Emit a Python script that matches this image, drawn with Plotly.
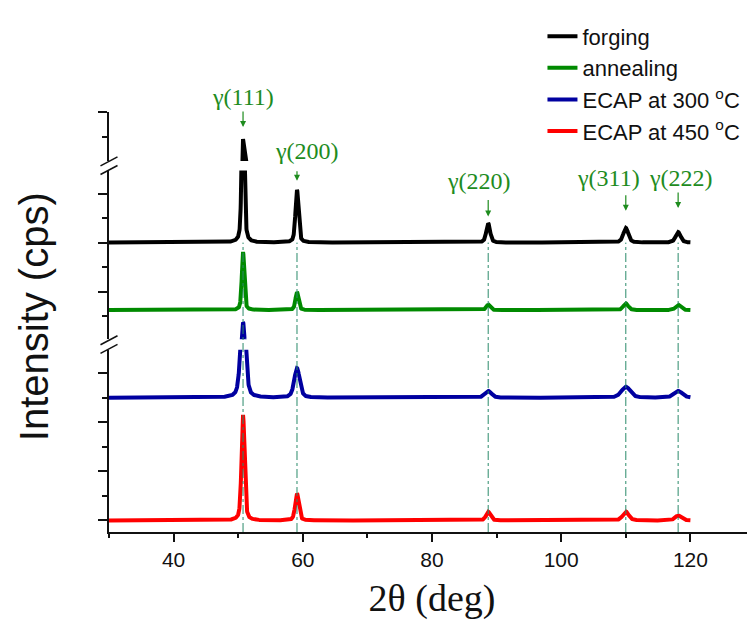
import numpy as np
import plotly.graph_objects as go

# ---------------- data ----------------
two_theta_min, two_theta_max = 30.0, 120.0
peak_labels = ["γ(111)", "γ(200)", "γ(220)", "γ(311)", "γ(222)"]
peak_pos = [50.75, 59.1, 88.7, 110.0, 118.1]

samples = ["forging", "annealing", "ECAP at 300 <sup>o</sup>C", "ECAP at 450 <sup>o</sup>C"]
offsets = [12.0, 9.25, 5.0, 0.0]           # vertical stacking offsets (a.u.)
heights_forging = [6.9, 2.15, 0.78, 0.60, 0.43]
heights_annealing = [2.37, 0.73, 0.22, 0.27, 0.22]
heights_ecap300 = [3.75, 1.20, 0.28, 0.45, 0.28]
heights_ecap450 = [4.30, 1.10, 0.35, 0.36, 0.20]
fwhm_forging = [0.45, 0.55, 0.70, 0.90, 0.90]
fwhm_annealing = [0.45, 0.55, 0.70, 0.90, 0.90]
fwhm_ecap300 = [0.90, 1.00, 1.20, 1.60, 1.50]
fwhm_ecap450 = [0.55, 0.65, 0.80, 1.10, 1.10]

heights = [heights_forging, heights_annealing, heights_ecap300, heights_ecap450]
fwhms = [fwhm_forging, fwhm_annealing, fwhm_ecap300, fwhm_ecap450]

# ---------------- styles ----------------
colors = ["#000000", "#008a00", "#0000a0", "#ff0000"]
label_color = "#1e8c1e"
vline_color = "#2a8a6a"
arrow_standoff = [12, 9, 7, 17, 24]
arrow_tail = [-29, -20, -25, -34, -41]
label_yshift = [42, 39, 42, 50, 54]
label_xshift = [0, 10, -9, -17, 3]

W, H = 755, 620
ML, MR, MT, MB = 101, 8, 86, 96
PH = H - MT - MB
PW = W - ML - MR
PX_PER_UNIT = 25.6
axis_bottom_px = H - MB


def frac(px):
    return (axis_bottom_px - px) / PH


# broken y axis: three stacked segments sharing the same scale
seg_dom = [
    [0.0, frac(334)],
    [frac(323), frac(147)],
    [frac(137), 1.0],
]
seg_range = [
    [-12 / PX_PER_UNIT, -12 / PX_PER_UNIT + (524 - 334) / PX_PER_UNIT],
    [9 - 24 / PX_PER_UNIT, 9 + 152 / PX_PER_UNIT],
    [20 - 51 / PX_PER_UNIT, 20.001],
]
yaxis_ids = ["y", "y2", "y3"]


def pattern(h, w, off, x):
    y = np.full_like(x, off)
    eta = 0.45
    for p, hh, ww in zip(peak_pos, h, w):
        g = np.exp(-4 * np.log(2) * ((x - p) / ww) ** 2)
        lo = 1.0 / (1.0 + 4 * ((x - p) / ww) ** 2)
        y = y + hh * (eta * lo + (1 - eta) * g)
    return y


x = np.linspace(two_theta_min, two_theta_max, 3601)

fig = go.Figure()
for i, name in enumerate(samples):
    y = pattern(heights[i], fwhms[i], offsets[i], x)
    for k, yid in enumerate(yaxis_ids):
        fig.add_trace(go.Scatter(
            x=x, y=y, mode="lines", name=name, xaxis="x", yaxis=yid,
            line=dict(color=colors[i], width=4),
            showlegend=(k == 0), hoverinfo="skip",
        ))

axis_common = dict(
    showline=True, linecolor="#111", linewidth=2, showgrid=False, zeroline=False,
    ticks="outside", ticklen=9, tickwidth=1.5, tickcolor="#111",
    showticklabels=False, tick0=0, dtick=2,
    minor=dict(ticks="outside", ticklen=5, tickwidth=1.5, tickcolor="#111", dtick=1, tick0=0, showgrid=False),
    fixedrange=True,
)
layout_axes = {}
for k, yid in enumerate(yaxis_ids):
    key = "yaxis" if k == 0 else "yaxis%d" % (k + 1)
    layout_axes[key] = dict(axis_common, domain=seg_dom[k], range=seg_range[k], anchor="x")

fig.update_layout(
    width=W, height=H,
    margin=dict(l=ML, r=MR, t=MT, b=MB),
    paper_bgcolor="white", plot_bgcolor="white",
    font=dict(family="Arial, Liberation Sans, sans-serif", color="#111"),
    xaxis=dict(
        range=[30, 130], anchor="y", showline=True, linecolor="#111", linewidth=2,
        showgrid=False, zeroline=False, ticks="outside", ticklen=8, tickwidth=1.5,
        tickcolor="#111", tick0=0, dtick=20,
        minor=dict(ticks="outside", ticklen=4, tickwidth=1.5, tickcolor="#111", dtick=10, showgrid=False),
        tickfont=dict(size=21, family="Arial, Liberation Sans, sans-serif", color="#111"),
        title=dict(text="2θ (deg)", font=dict(size=38, family="Liberation Serif, Times New Roman, serif", color="#111"), standoff=14),
        fixedrange=True,
    ),
    legend=dict(
        x=0.671, y=1.23, xanchor="left", yanchor="top",
        font=dict(size=22, family="Arial, Liberation Sans, sans-serif", color="#111"),
        bgcolor="rgba(0,0,0,0)", tracegroupgap=0,
    ),
    showlegend=True,
    **layout_axes,
)

# vertical dash-dot guide lines from the x axis up to the forging baseline
mid_dom, mid_rng = seg_dom[1], seg_range[1]
top_paper = mid_dom[0] + (offsets[0] - mid_rng[0]) / (mid_rng[1] - mid_rng[0]) * (mid_dom[1] - mid_dom[0])
for p in peak_pos:
    fig.add_shape(type="line", xref="x", yref="paper", x0=p, x1=p, y0=0, y1=top_paper,
                  line=dict(color=vline_color, width=1, dash="dashdot"), layer="above")

# peak labels with arrows, pointing at the forging peak tops
for j, (lab, p) in enumerate(zip(peak_labels, peak_pos)):
    top_val = offsets[0] + heights_forging[j]
    yref = "y3" if top_val > seg_range[1][1] else "y2"
    fig.add_annotation(
        x=p, y=top_val, xref="x", yref=yref, text="", showarrow=True,
        ax=0, ay=arrow_tail[j], axref="pixel", ayref="pixel",
        arrowhead=2, arrowsize=1, arrowwidth=1.2, arrowcolor=label_color,
        standoff=arrow_standoff[j],
    )
    fig.add_annotation(
        x=p, y=top_val, xref="x", yref=yref, text=lab, showarrow=False,
        xanchor="center", yanchor="middle",
        xshift=label_xshift[j], yshift=label_yshift[j],
        font=dict(size=24, family="Liberation Serif, Times New Roman, serif", color=label_color),
    )

# y axis title
fig.add_annotation(
    text="Intensity (cps)", textangle=-90, xref="paper", yref="paper",
    x=-(ML - 26) / PW, y=frac(300), xanchor="center", yanchor="middle", showarrow=False,
    font=dict(size=40, family="Arial, Liberation Sans, sans-serif", color="#111"),
)

# axis-break marks
for py in [137.5, 146.5, 324, 333]:
    fig.add_shape(type="line", xref="paper", yref="paper",
                  xsizemode="pixel", ysizemode="pixel", xanchor=0, yanchor=frac(py),
                  x0=-8.5, x1=8.5, y0=-4.5, y1=4.5,
                  line=dict(color="#111", width=1.5))

fig.write_html("out.html")
